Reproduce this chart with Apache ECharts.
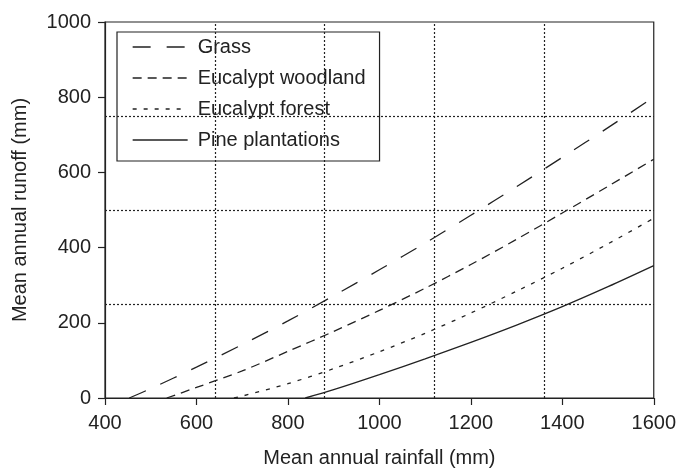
<!doctype html>
<html>
<head>
<meta charset="utf-8">
<title>Runoff vs rainfall</title>
<script src="https://cdn.jsdelivr.net/npm/echarts@6/dist/echarts.min.js"></script>
<style>
  html, body { margin: 0; padding: 0; background: #fff; }
  #main { width: 679px; height: 473px; }
</style>
</head>
<body>
<div id="main"></div>
<script type="text/javascript">
// values (rainfall mm -> runoff mm)
var grassRain = [453, 500, 600, 700, 800, 900, 1000, 1100, 1200, 1300, 1400, 1500, 1600];
var grassRunoff = [0, 25, 82, 142, 205, 272, 341, 412, 486, 562, 640, 719, 800];

var woodRain = [535, 600, 700, 800, 900, 1000, 1100, 1200, 1300, 1400, 1500, 1600];
var woodRunoff = [0, 28, 72, 124, 177, 233, 292, 355, 422, 492, 563, 635];

var forestRain = [682, 700, 800, 900, 1000, 1100, 1200, 1300, 1400, 1500, 1600];
var forestRunoff = [0, 5, 38, 78, 123, 172, 226, 284, 345, 410, 478];

var pineRain = [838, 900, 1000, 1100, 1200, 1300, 1400, 1500, 1600];
var pineRunoff = [0, 22, 62, 104, 148, 194, 243, 296, 352];

// dotted reference lines
var refRain = [640, 880, 1120, 1360];
var refRunoff = [250, 500, 750];

var names = ['Grass', 'Eucalypt woodland', 'Eucalypt forest', 'Pine plantations'];

function pairs(xs, ys) {
  var out = [];
  for (var i = 0; i < xs.length; i++) {
    out.push([xs[i], ys[i]]);
  }
  return out;
}

var ink = '#222';
var font = "'Liberation Sans', Arial, sans-serif";

var refLines = [];
for (var i = 0; i < refRain.length; i++) refLines.push({ xAxis: refRain[i] });
for (var j = 0; j < refRunoff.length; j++) refLines.push({ yAxis: refRunoff[j] });

function curve(name, xs, ys, dash) {
  return {
    name: name,
    type: 'line',
    smooth: 0.3,
    symbol: 'none',
    data: pairs(xs, ys),
    lineStyle: { color: ink, width: 1.3, type: dash },
    itemStyle: { color: ink }
  };
}

// plain numbers, no thousands separator
function plain(v) { return String(v); }

var myChart = echarts.init(document.getElementById('main'));

var option = {
  animation: false,
  backgroundColor: '#fff',
  textStyle: { fontFamily: font },
  grid: {
    left: 105,
    right: 23,
    top: 22,
    bottom: 71,
    show: true,
    borderColor: ink,
    borderWidth: 1.2
  },
  legend: {
    orient: 'vertical',
    left: 117,
    top: 32,
    padding: [5, 14, 11, 15],
    itemWidth: 55,
    itemHeight: 14,
    itemGap: 11,
    backgroundColor: '#fff',
    borderColor: ink,
    borderWidth: 1.2,
    itemStyle: { opacity: 0 },
    lineStyle: { color: ink, width: 1.3 },
    data: names,
    textStyle: { fontSize: 20, color: ink, fontFamily: font, padding: [0, 0, 0, 5] }
  },
  xAxis: {
    type: 'value',
    min: 400,
    max: 1600,
    interval: 200,
    name: 'Mean annual rainfall (mm)',
    nameLocation: 'middle',
    nameGap: 50,
    nameTextStyle: { fontSize: 20, color: ink },
    axisLine: { lineStyle: { color: ink, width: 1.2 } },
    axisTick: { length: 7, lineStyle: { color: ink, width: 1.2 } },
    axisLabel: { fontSize: 20, color: ink, margin: 15, formatter: plain },
    splitLine: { show: false }
  },
  yAxis: {
    type: 'value',
    min: 0,
    max: 1000,
    interval: 200,
    name: 'Mean annual runoff (mm)',
    nameLocation: 'middle',
    nameGap: 75,
    nameTextStyle: { fontSize: 20, color: ink },
    axisLine: { show: true, lineStyle: { color: ink, width: 1.2 } },
    axisTick: { show: true, length: 7, lineStyle: { color: ink, width: 1.2 } },
    axisLabel: { fontSize: 20, color: ink, margin: 14, formatter: plain },
    splitLine: { show: false }
  },
  series: [
    curve(names[0], grassRain, grassRunoff, [18, 16]),
    curve(names[1], woodRain, woodRunoff, [9, 6]),
    curve(names[2], forestRain, forestRunoff, [4, 7]),
    curve(names[3], pineRain, pineRunoff, 'solid'),
    {
      name: 'ref',
      type: 'line',
      data: [],
      silent: true,
      markLine: {
        silent: true,
        symbol: 'none',
        label: { show: false },
        lineStyle: { color: ink, width: 1.2, type: [2, 2] },
        data: refLines
      }
    }
  ]
};

myChart.setOption(option);
</script>
</body>
</html>
